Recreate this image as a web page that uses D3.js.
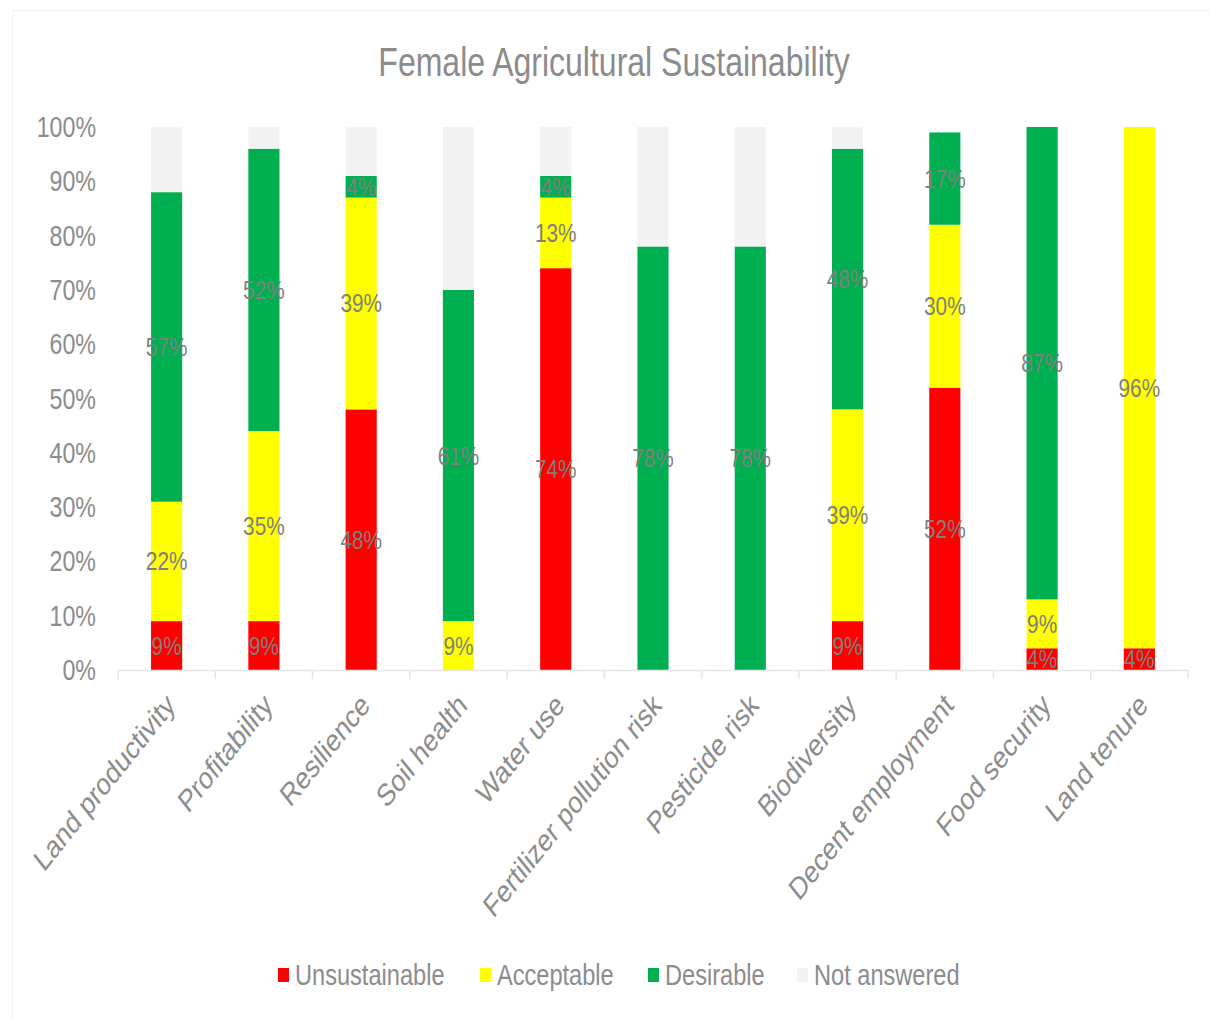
<!DOCTYPE html>
<html>
<head>
<meta charset="utf-8">
<script src="https://cdn.jsdelivr.net/npm/d3@7"></script>
<style>
  html, body { margin: 0; padding: 0; background: #ffffff; }
  svg text { font-family: "Liberation Sans", Arial, sans-serif; }
</style>
</head>
<body>
<svg id="chart" width="1210" height="1019"></svg>
<script>
// Categories and stacked shares (percent of female respondents)
const categories = ["Land productivity", "Profitability", "Resilience", "Soil health", "Water use",
  "Fertilizer pollution risk", "Pesticide risk", "Biodiversity", "Decent employment", "Food security", "Land tenure"];
const unsustainable = [9, 9, 48, 0, 74, 0, 0, 9, 52, 4, 4];
const acceptable    = [22, 35, 39, 9, 13, 0, 0, 39, 30, 9, 96];
const desirable     = [57, 52, 4, 61, 4, 78, 78, 48, 17, 87, 0];
const notAnswered   = [12, 4, 9, 30, 9, 22, 22, 4, 0, 0, 0];
const yTicks = [0, 10, 20, 30, 40, 50, 60, 70, 80, 90, 100];

const seriesNames = ["Unsustainable", "Acceptable", "Desirable", "Not answered"];
const seriesColors = ["#ff0000", "#ffff00", "#00b050", "#f2f2f2"];
const seriesValues = [unsustainable, acceptable, desirable, notAnswered];

const rows = categories.map((c, i) => {
  const r = { category: c };
  seriesNames.forEach((s, k) => r[s] = seriesValues[k][i]);
  return r;
});

const svg = d3.select("#chart");
const SX = 0.8; // horizontal squeeze applied to all text

// Chart frame
svg.append("rect").attr("x", 12.5).attr("y", 10.5).attr("width", 1210).attr("height", 1019)
  .attr("fill", "none").attr("stroke", "#f2f2f2").attr("stroke-width", 1);

const x = d3.scaleBand().domain(categories).range([118, 1188]).paddingInner(0.68).paddingOuter(0.34);
const y = d3.scaleLinear().domain([0, 100]).range([670, 127]);

const stack = d3.stack().keys(seriesNames);
const layers = stack(rows);

// Bars
const layerG = svg.append("g").selectAll("g").data(layers).join("g")
  .attr("fill", (d, i) => seriesColors[i]);
layerG.selectAll("rect").data(d => d).join("rect")
  .attr("x", d => x(d.data.category))
  .attr("width", x.bandwidth())
  .attr("y", d => y(d[1]))
  .attr("height", d => y(d[0]) - y(d[1]));

// Category axis: baseline and ticks between categories
const axisG = svg.append("g");
axisG.append("line").attr("x1", 118).attr("x2", 1188).attr("y1", 670.5).attr("y2", 670.5)
  .attr("stroke", "#e6e6e6").attr("stroke-width", 1.5);
const boundaries = d3.range(categories.length + 1).map(i => 118 + i * x.step());
axisG.selectAll("line.tick").data(boundaries).join("line").attr("class", "tick")
  .attr("x1", d => d).attr("x2", d => d).attr("y1", 670).attr("y2", 679)
  .attr("stroke", "#e6e6e6").attr("stroke-width", 1.5);

// Category labels, rotated
axisG.selectAll("text.cat").data(categories).join("text").attr("class", "cat")
  .attr("transform", d => `translate(${x(d) + x.bandwidth() / 2 + 10},${707}) scale(${SX},1) rotate(-45)`)
  .attr("text-anchor", "end")
  .attr("font-size", 31)
  .attr("fill", "#8c8c8c")
  .text(d => d);

// Value axis labels
svg.append("g").selectAll("text").data(yTicks).join("text")
  .attr("transform", d => `translate(96,${y(d) + 10}) scale(${SX},1)`)
  .attr("text-anchor", "end")
  .attr("font-size", 29)
  .attr("fill", "#8c8c8c")
  .text(d => d + "%");

// Data labels (not for the "Not answered" series)
const labelG = svg.append("g");
layers.slice(0, 3).forEach(layer => {
  labelG.selectAll(null).data(layer.filter(d => d[1] - d[0] > 0)).join("text")
    .attr("transform", d => `translate(${x(d.data.category) + x.bandwidth() / 2},${(y(d[0]) + y(d[1])) / 2 + 9}) scale(${SX},1)`)
    .attr("text-anchor", "middle")
    .attr("font-size", 26)
    .attr("fill", "#7f7f7f")
    .text(d => (d[1] - d[0]) + "%");
});

// Title
svg.append("text")
  .attr("transform", `translate(614,76) scale(${SX},1)`)
  .attr("text-anchor", "middle")
  .attr("font-size", 40)
  .attr("fill", "#8c8c8c")
  .text("Female Agricultural Sustainability");

// Legend
const legendX = [278, 480, 648, 797];
const leg = svg.append("g").selectAll("g").data(seriesNames).join("g")
  .attr("transform", (d, i) => `translate(${legendX[i]},975)`);
leg.append("rect").attr("x", 0).attr("y", -7).attr("width", 11).attr("height", 14)
  .attr("fill", (d, i) => seriesColors[i]);
leg.append("text")
  .attr("transform", `translate(17,10) scale(${SX},1)`)
  .attr("font-size", 29.5)
  .attr("fill", "#8c8c8c")
  .text(d => d);
</script>
</body>
</html>
